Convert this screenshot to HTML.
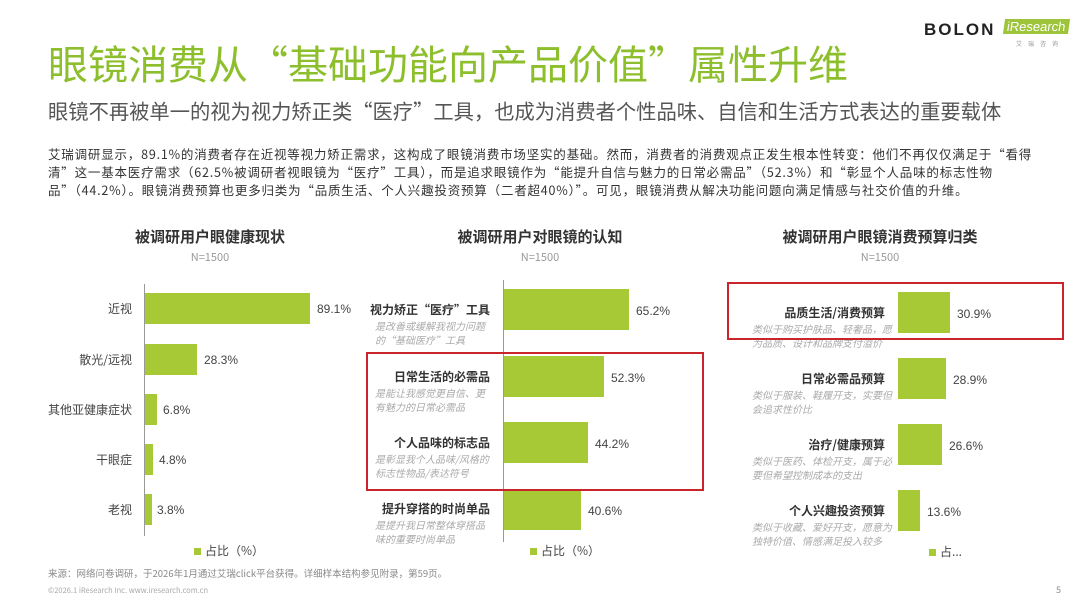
<!DOCTYPE html><html><head><meta charset="utf-8"><style>
*{margin:0;padding:0;box-sizing:border-box}
body{width:1080px;height:608px;background:#fff;position:relative;overflow:hidden;font-family:"Noto Sans CJK SC","Liberation Sans",sans-serif;color:#333}
.a{position:absolute;white-space:nowrap}
.bar{position:absolute;background:#a6c935}
.ax{position:absolute;width:1px;background:#999}
.lb{position:absolute;text-align:right;font-size:12px;color:#444;line-height:16px}
.bl{position:absolute;text-align:right;font-size:12px;font-weight:bold;color:#333;line-height:16px}
.sub{position:absolute;font-size:10px;font-style:italic;color:#aaa;line-height:14px;white-space:normal;word-break:break-all}
.v{position:absolute;font-size:12px;color:#444;line-height:16px;font-family:"Liberation Sans",sans-serif}
.ct{position:absolute;font-size:15px;font-weight:bold;color:#333;text-align:center;line-height:20px}
.n{position:absolute;font-size:11px;color:#999;text-align:center;line-height:14px}
.box{position:absolute;border:2px solid #c9252b}
.lg{position:absolute;font-size:12px;color:#444;line-height:16px}
.lg i{display:inline-block;width:7px;height:7px;background:#a6c935;margin-right:4px}
</style></head><body>
<div class="a" style="left:48px;top:36px;font-size:40px;line-height:52px;color:#8dbf2d">眼镜消费从“基础功能向产品价值”属性升维</div>
<div class="a" style="left:48px;top:96px;font-size:20.3px;line-height:28px;color:#555">眼镜不再被单一的视为视力矫正类“医疗”工具，也成为消费者个性品味、自信和生活方式表达的重要载体</div>
<div class="a" style="left:48px;top:145px;width:992px;font-size:12.5px;letter-spacing:0.8px;line-height:18px;white-space:normal;color:#333">艾瑞调研显示，89.1%的消费者存在近视等视力矫正需求，这构成了眼镜消费市场坚实的基础。然而，消费者的消费观点正发生根本性转变：他们不再仅仅满足于“看得清”这一基本医疗需求（62.5%被调研者视眼镜为“医疗”工具），而是追求眼镜作为“能提升自信与魅力的日常必需品”（52.3%）和“彰显个人品味的标志性物品”（44.2%）。眼镜消费预算也更多归类为“品质生活、个人兴趣投资预算（二者超40%）”。可见，眼镜消费从解决功能问题向满足情感与社交价值的升维。</div>
<div class="a" style="left:924px;top:20px;font-size:17px;font-weight:bold;letter-spacing:2px;color:#222;font-family:'Liberation Sans',sans-serif">BOLON</div>
<div class="a" style="left:1004px;top:19px;font-size:13px;color:#fff;background:#9dc43b;padding:0 3px;transform:skewX(-8deg);font-family:'Liberation Sans',sans-serif">iResearch</div>
<div class="a" style="left:1016px;top:39px;font-size:6px;color:#999;letter-spacing:6px">艾瑞咨询</div>

<div class="ct" style="left:100px;top:227px;width:220px">被调研用户眼健康现状</div>
<div class="n" style="left:100px;top:250px;width:220px">N=1500</div>
<div class="ax" style="left:144px;top:284px;height:252px"></div>
<div class="lb" style="left:10px;width:122px;top:301px">近视</div>
<div class="bar" style="left:145px;top:293px;width:165px;height:31px"></div><div class="v" style="left:317px;top:301px">89.1%</div>
<div class="lb" style="left:10px;width:122px;top:352px">散光/远视</div>
<div class="bar" style="left:145px;top:344px;width:52px;height:31px"></div><div class="v" style="left:204px;top:352px">28.3%</div>
<div class="lb" style="left:10px;width:122px;top:402px">其他亚健康症状</div>
<div class="bar" style="left:145px;top:394px;width:12px;height:31px"></div><div class="v" style="left:163px;top:402px">6.8%</div>
<div class="lb" style="left:10px;width:122px;top:452px">干眼症</div>
<div class="bar" style="left:145px;top:444px;width:8px;height:31px"></div><div class="v" style="left:159px;top:452px">4.8%</div>
<div class="lb" style="left:10px;width:122px;top:502px">老视</div>
<div class="bar" style="left:145px;top:494px;width:7px;height:31px"></div><div class="v" style="left:157px;top:502px">3.8%</div>
<div class="lg" style="left:194px;top:543px"><i></i>占比（%）</div>

<div class="ct" style="left:430px;top:227px;width:220px">被调研用户对眼镜的认知</div>
<div class="n" style="left:430px;top:250px;width:220px">N=1500</div>
<div class="ax" style="left:503px;top:280px;height:262px"></div>
<div class="bl" style="left:360px;width:130px;top:302px">视力矫正“医疗”工具</div>
<div class="sub" style="left:375px;top:319px;width:118px">是改善或缓解我视力问题的“基础医疗”工具</div>
<div class="bar" style="left:504px;top:289px;width:125px;height:41px"></div><div class="v" style="left:636px;top:303px">65.2%</div>
<div class="bl" style="left:360px;width:130px;top:369px">日常生活的必需品</div>
<div class="sub" style="left:375px;top:386px;width:118px">是能让我感觉更自信、更有魅力的日常必需品</div>
<div class="bar" style="left:504px;top:356px;width:100px;height:41px"></div><div class="v" style="left:611px;top:370px">52.3%</div>
<div class="bl" style="left:360px;width:130px;top:435px">个人品味的标志品</div>
<div class="sub" style="left:375px;top:452px;width:118px">是彰显我个人品味/风格的标志性物品/表达符号</div>
<div class="bar" style="left:504px;top:422px;width:84px;height:41px"></div><div class="v" style="left:595px;top:436px">44.2%</div>
<div class="bl" style="left:360px;width:130px;top:501px">提升穿搭的时尚单品</div>
<div class="sub" style="left:375px;top:518px;width:118px">是提升我日常整体穿搭品味的重要时尚单品</div>
<div class="bar" style="left:504px;top:489px;width:77px;height:41px"></div><div class="v" style="left:588px;top:503px">40.6%</div>
<div class="box" style="left:366px;top:352px;width:338px;height:139px"></div>
<div class="lg" style="left:530px;top:543px"><i></i>占比（%）</div>

<div class="ct" style="left:760px;top:227px;width:240px">被调研用户眼镜消费预算归类</div>
<div class="n" style="left:760px;top:250px;width:240px">N=1500</div>
<div class="bl" style="left:740px;width:145px;top:305px">品质生活/消费预算</div>
<div class="sub" style="left:752px;top:322px;width:140px">类似于购买护肤品、轻奢品，愿为品质、设计和品牌支付溢价</div>
<div class="bar" style="left:898px;top:292px;width:52px;height:41px"></div><div class="v" style="left:957px;top:306px">30.9%</div>
<div class="bl" style="left:740px;width:145px;top:371px">日常必需品预算</div>
<div class="sub" style="left:752px;top:388px;width:140px">类似于服装、鞋履开支，实要但会追求性价比</div>
<div class="bar" style="left:898px;top:358px;width:48px;height:41px"></div><div class="v" style="left:953px;top:372px">28.9%</div>
<div class="bl" style="left:740px;width:145px;top:437px">治疗/健康预算</div>
<div class="sub" style="left:752px;top:454px;width:140px">类似于医药、体检开支，属于必要但希望控制成本的支出</div>
<div class="bar" style="left:898px;top:424px;width:44px;height:41px"></div><div class="v" style="left:949px;top:438px">26.6%</div>
<div class="bl" style="left:740px;width:145px;top:503px">个人兴趣投资预算</div>
<div class="sub" style="left:752px;top:520px;width:140px">类似于收藏、爱好开支，愿意为独特价值、情感满足投入较多</div>
<div class="bar" style="left:898px;top:490px;width:22px;height:41px"></div><div class="v" style="left:927px;top:504px">13.6%</div>
<div class="box" style="left:727px;top:282px;width:337px;height:58px"></div>
<div class="lg" style="left:929px;top:544px"><i></i>占...</div>

<div class="a" style="left:48px;top:567px;font-size:9.5px;line-height:12px;color:#888">来源：网络问卷调研，于2026年1月通过艾瑞click平台获得。详细样本结构参见附录，第59页。</div>
<div class="a" style="left:48px;top:586px;font-size:7.5px;line-height:10px;color:#aaa">©2026.1 iResearch Inc. www.iresearch.com.cn</div>
<div class="a" style="left:1056px;top:585px;font-size:9px;line-height:10px;color:#888">5</div>
</body></html>
